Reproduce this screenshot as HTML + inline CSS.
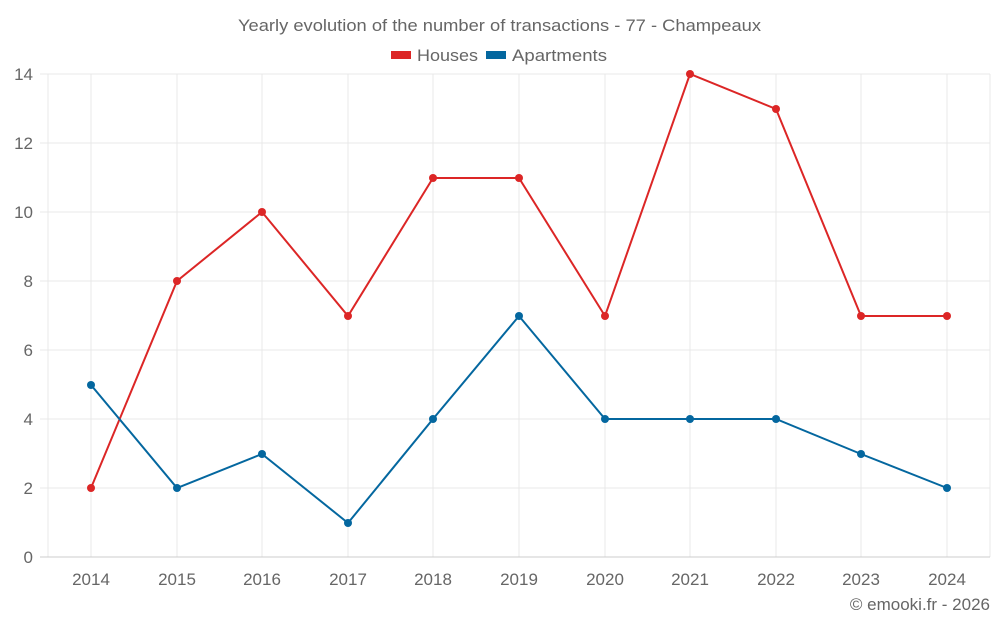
<!DOCTYPE html>
<html><head><style>
body{margin:0;background:#fff;}
text{font-family:"Liberation Sans",sans-serif;fill:#666;}
</style></head><body>
<svg width="1000" height="625" xmlns="http://www.w3.org/2000/svg">
<text x="238" y="31" font-size="17" textLength="523" lengthAdjust="spacingAndGlyphs">Yearly evolution of the number of transactions - 77 - Champeaux</text>
<rect x="391" y="51" width="20" height="8" fill="#dc2626"/>
<text x="417" y="61" font-size="17" textLength="61" lengthAdjust="spacingAndGlyphs">Houses</text>
<rect x="486" y="51" width="20" height="8" fill="#04679f"/>
<text x="512" y="61" font-size="17" textLength="95" lengthAdjust="spacingAndGlyphs">Apartments</text>
<g stroke="#e8e8e8" stroke-width="1">
<line x1="40" y1="74" x2="990" y2="74"/><line x1="40" y1="143" x2="990" y2="143"/>
<line x1="40" y1="212" x2="990" y2="212"/><line x1="40" y1="281" x2="990" y2="281"/>
<line x1="40" y1="350" x2="990" y2="350"/><line x1="40" y1="419" x2="990" y2="419"/>
<line x1="40" y1="488" x2="990" y2="488"/>
<line x1="48" y1="74" x2="48" y2="557"/>
<line x1="91" y1="74" x2="91" y2="557"/><line x1="177" y1="74" x2="177" y2="557"/>
<line x1="262" y1="74" x2="262" y2="557"/><line x1="348" y1="74" x2="348" y2="557"/>
<line x1="433" y1="74" x2="433" y2="557"/><line x1="519" y1="74" x2="519" y2="557"/>
<line x1="605" y1="74" x2="605" y2="557"/><line x1="690" y1="74" x2="690" y2="557"/>
<line x1="776" y1="74" x2="776" y2="557"/><line x1="861" y1="74" x2="861" y2="557"/>
<line x1="947" y1="74" x2="947" y2="557"/><line x1="990" y1="74" x2="990" y2="557"/>
</g>
<line x1="40" y1="557" x2="990" y2="557" stroke="#ccc"/>
<g font-size="17" text-anchor="end">
<text x="33" y="80">14</text><text x="33" y="149">12</text><text x="33" y="218">10</text>
<text x="33" y="287">8</text><text x="33" y="356">6</text><text x="33" y="425">4</text>
<text x="33" y="494">2</text><text x="33" y="563">0</text>
</g>
<g font-size="17" text-anchor="middle">
<text x="91" y="585">2014</text><text x="177" y="585">2015</text><text x="262" y="585">2016</text>
<text x="348" y="585">2017</text><text x="433" y="585">2018</text><text x="519" y="585">2019</text>
<text x="605" y="585">2020</text><text x="690" y="585">2021</text><text x="776" y="585">2022</text>
<text x="861" y="585">2023</text><text x="947" y="585">2024</text>
</g>
<text x="990" y="610" font-size="17" text-anchor="end">© emooki.fr - 2026</text>
<polyline fill="none" stroke="#dc2626" stroke-width="2" points="91,488 177,281 262,212 348,316 433,178 519,178 605,316 690,74 776,109 861,316 947,316"/>
<polyline fill="none" stroke="#04679f" stroke-width="2" points="91,385 177,488 262,454 348,523 433,419 519,316 605,419 690,419 776,419 861,454 947,488"/>
<g fill="#dc2626">
<circle cx="91" cy="488" r="4"/><circle cx="177" cy="281" r="4"/><circle cx="262" cy="212" r="4"/><circle cx="348" cy="316" r="4"/><circle cx="433" cy="178" r="4"/><circle cx="519" cy="178" r="4"/><circle cx="605" cy="316" r="4"/><circle cx="690" cy="74" r="4"/><circle cx="776" cy="109" r="4"/><circle cx="861" cy="316" r="4"/><circle cx="947" cy="316" r="4"/>
</g>
<g fill="#04679f">
<circle cx="91" cy="385" r="4"/><circle cx="177" cy="488" r="4"/><circle cx="262" cy="454" r="4"/><circle cx="348" cy="523" r="4"/><circle cx="433" cy="419" r="4"/><circle cx="519" cy="316" r="4"/><circle cx="605" cy="419" r="4"/><circle cx="690" cy="419" r="4"/><circle cx="776" cy="419" r="4"/><circle cx="861" cy="454" r="4"/><circle cx="947" cy="488" r="4"/>
</g>
</svg>
</body></html>
